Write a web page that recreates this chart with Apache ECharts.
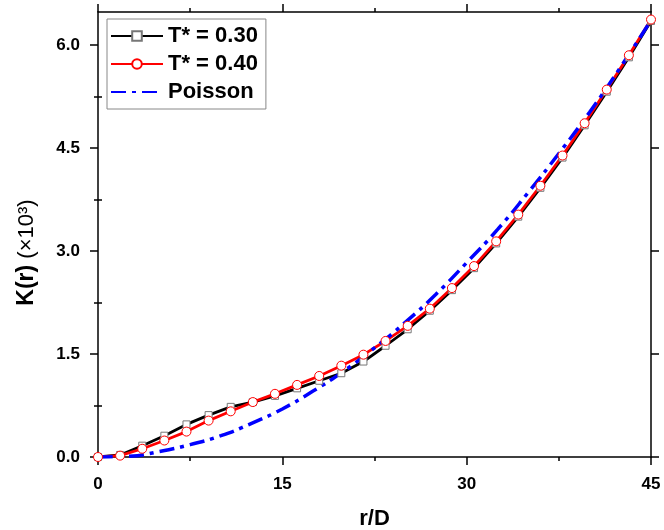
<!DOCTYPE html>
<html>
<head>
<meta charset="utf-8">
<script src="https://cdn.jsdelivr.net/npm/echarts@6/dist/echarts.min.js"></script>
<style>
  html, body { margin: 0; padding: 0; background: #fff; }
  #chart { width: 664px; height: 530px; }
</style>
</head>
<body>
<div id="chart"></div>
<script>
// r/D sample points for the two simulation curves
const rValues = [0, 1.8, 3.6, 5.4, 7.2, 9.0, 10.8, 12.6, 14.4, 16.2, 18.0, 19.8, 21.6,
  23.4, 25.2, 27.0, 28.8, 30.6, 32.4, 34.2, 36.0, 37.8, 39.6, 41.4, 43.2, 45.0];
const kT030 = [0, 0.03, 0.165, 0.31, 0.475, 0.61, 0.73, 0.80, 0.89, 1.00, 1.11, 1.22, 1.39,
  1.62, 1.86, 2.13, 2.43, 2.75, 3.11, 3.50, 3.92, 4.36, 4.83, 5.32, 5.82, 6.35];
const kT040 = [0, 0.02, 0.12, 0.24, 0.37, 0.53, 0.665, 0.80, 0.92, 1.05, 1.18, 1.33, 1.49,
  1.69, 1.91, 2.16, 2.46, 2.78, 3.14, 3.53, 3.95, 4.39, 4.86, 5.35, 5.85, 6.37];
// Poisson reference curve
const poissonR = [0, 2.5, 5, 7.5, 10, 12.5, 15, 17.5, 20, 22.5, 25, 27.5, 30, 32.5, 35, 37.5, 40, 42.5, 45];
const poissonK = [0, 0.01, 0.08, 0.18, 0.31, 0.49, 0.70, 0.96, 1.25, 1.59, 1.96, 2.37, 2.83,
  3.31, 3.85, 4.42, 5.02, 5.67, 6.36];

const xTicks = [0, 15, 30, 45];
const yTicks = [0, 1.5, 3.0, 4.5, 6.0];
const yMinorTicks = [0.75, 2.25, 3.75, 5.25];

const font = '"Liberation Sans", Arial, sans-serif';
const zip = (xs, ys) => xs.map((x, i) => [x, ys[i]]);

const chart = echarts.init(document.getElementById('chart'));

const lineAxis = { show: true, onZero: false, lineStyle: { color: '#000', width: 1.5 } };

const xBase = {
  type: 'value', min: 0, max: 45, interval: 15,
  axisLine: lineAxis,
  axisTick: { show: true, inside: false, length: 8, lineStyle: { color: '#000', width: 1.5 } },
  minorTick: { show: true, splitNumber: 2, length: 4, lineStyle: { color: '#000', width: 1.5 } },
  splitLine: { show: false }
};

const yMajor = (pos, labels) => ({
  type: 'value', position: pos, min: 0, max: 6.48,
  axisLine: lineAxis,
  axisTick: { show: true, inside: false, length: 8, customValues: yTicks,
    lineStyle: { color: '#000', width: 1.5 } },
  axisLabel: labels ? {
    show: true, customValues: yTicks, margin: 18,
    formatter: v => v.toFixed(1),
    color: '#000', fontFamily: font, fontWeight: 'bold', fontSize: 17
  } : { show: false },
  splitLine: { show: false }
});

const yMinor = pos => ({
  type: 'value', position: pos, min: 0, max: 6.48,
  axisLine: { show: false },
  axisTick: { show: true, inside: false, length: 4, customValues: yMinorTicks,
    lineStyle: { color: '#000', width: 1.5 } },
  axisLabel: { show: false },
  splitLine: { show: false }
});

const option = {
  animation: false,
  backgroundColor: '#fff',
  grid: { left: 98, right: 13, top: 12, bottom: 73, containLabel: false, outerBoundsMode: 'none' },
  legend: {
    orient: 'vertical',
    left: 107, top: 19,
    padding: [6, 8, 6, 3],
    itemWidth: 52, itemHeight: 12, itemGap: 6,
    borderColor: '#888', borderWidth: 1,
    textStyle: { color: '#000', fontFamily: font, fontWeight: 'bold', fontSize: 22 },
    data: ['T* = 0.30', 'T* = 0.40', { name: 'Poisson', itemStyle: { opacity: 0 } }]
  },
  xAxis: [
    Object.assign({}, xBase, {
      position: 'bottom',
      name: 'r/D', nameLocation: 'middle', nameGap: 51,
      nameTextStyle: { color: '#000', fontFamily: font, fontWeight: 'bold', fontSize: 22 },
      axisLabel: {
        show: true, margin: 19, color: '#000', fontFamily: font, fontWeight: 'bold', fontSize: 17,
        customValues: xTicks
      }
    }),
    Object.assign({}, xBase, { position: 'top', axisLabel: { show: false } })
  ],
  yAxis: [
    Object.assign(yMajor('left', true), {
      name: '{b|K(r)} {n|(×10³)}', nameLocation: 'middle', nameGap: 60, nameRotate: 90,
      nameTextStyle: {
        color: '#000', fontFamily: font, fontSize: 22, padding: [0, 36, 0, 0],
        rich: {
          b: { fontFamily: font, fontWeight: 'bold', fontSize: 23, color: '#000' },
          n: { fontFamily: font, fontWeight: 'normal', fontSize: 22, color: '#000' }
        }
      }
    }),
    yMinor('left'),
    yMajor('right', false),
    yMinor('right')
  ],
  series: [
    {
      name: 'T* = 0.30', type: 'line', data: zip(rValues, kT030),
      symbol: 'rect', symbolSize: 7,
      lineStyle: { color: '#000', width: 2.8 },
      itemStyle: { color: '#fff', borderColor: '#777', borderWidth: 1 }
    },
    {
      name: 'T* = 0.40', type: 'line', data: zip(rValues, kT040),
      symbol: 'circle', symbolSize: 9,
      lineStyle: { color: '#ff0000', width: 2.8 },
      itemStyle: { color: '#fff', borderColor: '#ff0000', borderWidth: 1 }
    },
    {
      name: 'Poisson', type: 'line', data: zip(poissonR, poissonK),
      symbol: 'none', smooth: true,
      lineStyle: { color: '#0000ff', width: 3.5, type: [15, 6, 4, 6] },
      itemStyle: { color: '#0000ff' }
    }
  ]
};

chart.setOption(option);
</script>
</body>
</html>
